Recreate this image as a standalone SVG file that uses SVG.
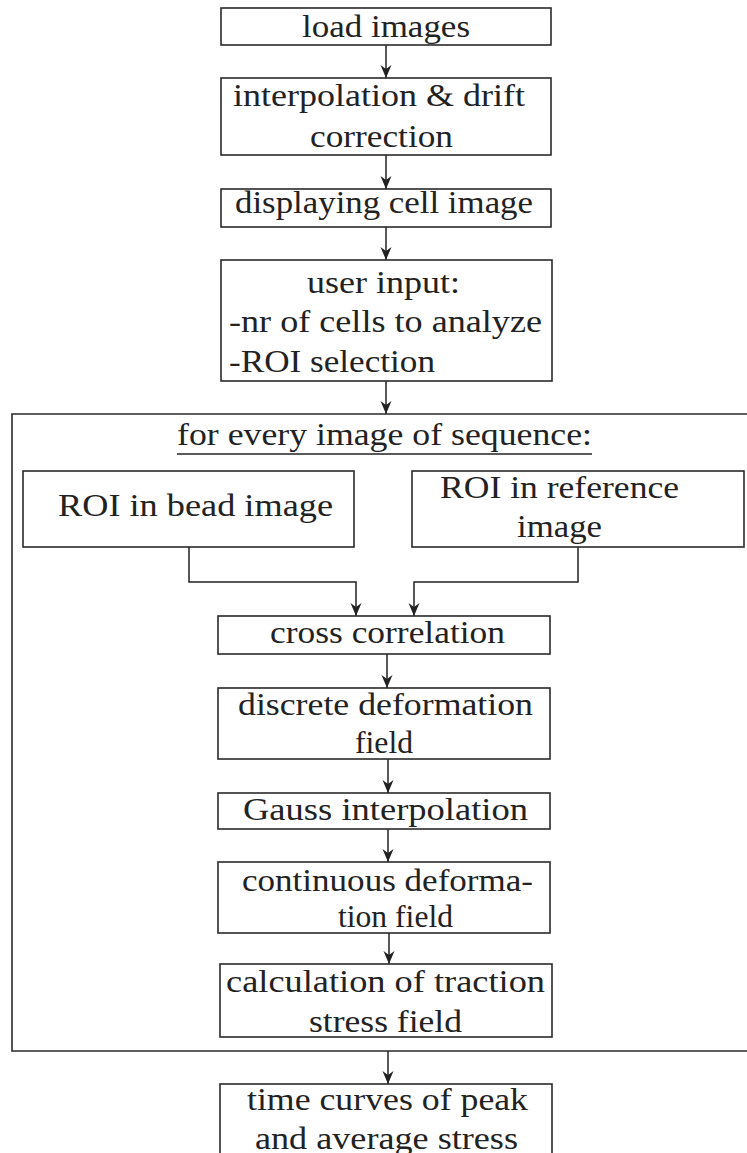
<svg xmlns="http://www.w3.org/2000/svg" width="747" height="1153" viewBox="0 0 747 1153">
<style>
.box{fill:#fff;stroke:#2a2a2a;stroke-width:1.6}
.frame{fill:none;stroke:#2a2a2a;stroke-width:1.6}
.t{font-family:'Liberation Serif','Times New Roman',serif;font-size:32px;fill:#222}
.c{fill:none;stroke:#222;stroke-width:1.5}
</style>
<defs>
<marker id="ah" viewBox="-14 -7 15 14" refX="0" refY="0" markerWidth="15" markerHeight="14" markerUnits="userSpaceOnUse" orient="auto">
<path d="M0,0 L-13,-5.5 L-9,0 L-13,5.5 Z" fill="#222"/>
</marker>
</defs>
<rect width="747" height="1153" fill="#fff"/>
<g id="loop-frame">
<path class="frame" d="M760,414 H12 V1051 H760"/>
<text class="t" x="177" y="445" textLength="415" lengthAdjust="spacingAndGlyphs">for every image of sequence:</text>
<line x1="177" y1="454" x2="592" y2="454" stroke="#222" stroke-width="1.5"/>
</g>
<g id="connectors">
<line class="c" x1="386" y1="45" x2="386" y2="78" marker-end="url(#ah)"/>
<line class="c" x1="386" y1="155" x2="386" y2="189" marker-end="url(#ah)"/>
<line class="c" x1="386" y1="227" x2="386" y2="260" marker-end="url(#ah)"/>
<line class="c" x1="386" y1="381" x2="386" y2="414" marker-end="url(#ah)"/>
<path class="c" d="M189,547 V582 H356 V616" marker-end="url(#ah)"/>
<path class="c" d="M578,547 V582 H414 V616" marker-end="url(#ah)"/>
<line class="c" x1="387" y1="654" x2="387" y2="688" marker-end="url(#ah)"/>
<line class="c" x1="388" y1="759" x2="388" y2="793" marker-end="url(#ah)"/>
<line class="c" x1="388" y1="829" x2="388" y2="862" marker-end="url(#ah)"/>
<line class="c" x1="389" y1="933" x2="389" y2="964" marker-end="url(#ah)"/>
<line class="c" x1="388" y1="1051" x2="388" y2="1084" marker-end="url(#ah)"/>
</g>
<g id="load-images">
<rect class="box" x="221" y="8" width="330" height="37"/>
<text class="t" x="302" y="37" textLength="168" lengthAdjust="spacingAndGlyphs">load images</text>
</g>
<g id="interpolation-drift">
<rect class="box" x="221" y="78" width="330" height="77"/>
<text class="t" x="233" y="106" textLength="292" lengthAdjust="spacingAndGlyphs">interpolation &amp; drift</text>
<text class="t" x="310" y="147" textLength="143" lengthAdjust="spacingAndGlyphs">correction</text>
</g>
<g id="displaying-cell-image">
<rect class="box" x="221" y="189" width="330" height="38"/>
<text class="t" x="235" y="213" textLength="298" lengthAdjust="spacingAndGlyphs">displaying cell image</text>
</g>
<g id="user-input">
<rect class="box" x="221" y="260" width="331" height="121"/>
<text class="t" x="307" y="293" textLength="153" lengthAdjust="spacingAndGlyphs">user input:</text>
<text class="t" x="229" y="332" textLength="313" lengthAdjust="spacingAndGlyphs">-nr of cells to analyze</text>
<text class="t" x="229" y="372" textLength="206" lengthAdjust="spacingAndGlyphs">-ROI selection</text>
</g>
<g id="roi-bead">
<rect class="box" x="23" y="471" width="331" height="76"/>
<text class="t" x="58" y="516" textLength="275" lengthAdjust="spacingAndGlyphs">ROI in bead image</text>
</g>
<g id="roi-reference">
<rect class="box" x="412" y="471" width="332" height="76"/>
<text class="t" x="440" y="498" textLength="239" lengthAdjust="spacingAndGlyphs">ROI in reference</text>
<text class="t" x="517" y="537" textLength="85" lengthAdjust="spacingAndGlyphs">image</text>
</g>
<g id="cross-correlation">
<rect class="box" x="218" y="616" width="332" height="38"/>
<text class="t" x="270" y="643" textLength="235" lengthAdjust="spacingAndGlyphs">cross correlation</text>
</g>
<g id="discrete-deformation">
<rect class="box" x="218" y="688" width="332" height="71"/>
<text class="t" x="238" y="715" textLength="295" lengthAdjust="spacingAndGlyphs">discrete deformation</text>
<text class="t" x="355" y="753" textLength="58" lengthAdjust="spacingAndGlyphs">field</text>
</g>
<g id="gauss-interpolation">
<rect class="box" x="218" y="793" width="332" height="36"/>
<text class="t" x="243" y="820" textLength="285" lengthAdjust="spacingAndGlyphs">Gauss interpolation</text>
</g>
<g id="continuous-deformation">
<rect class="box" x="218" y="862" width="332" height="71"/>
<text class="t" x="242" y="891" textLength="291" lengthAdjust="spacingAndGlyphs">continuous deforma-</text>
<text class="t" x="338" y="927" textLength="115" lengthAdjust="spacingAndGlyphs">tion field</text>
</g>
<g id="traction-stress">
<rect class="box" x="220" y="964" width="332" height="73"/>
<text class="t" x="226" y="992" textLength="319" lengthAdjust="spacingAndGlyphs">calculation of traction</text>
<text class="t" x="309" y="1032" textLength="153" lengthAdjust="spacingAndGlyphs">stress field</text>
</g>
<g id="time-curves">
<rect class="box" x="220" y="1084" width="332" height="80"/>
<text class="t" x="247" y="1110" textLength="281" lengthAdjust="spacingAndGlyphs">time curves of peak</text>
<text class="t" x="255" y="1149" textLength="263" lengthAdjust="spacingAndGlyphs">and average stress</text>
</g>
</svg>
